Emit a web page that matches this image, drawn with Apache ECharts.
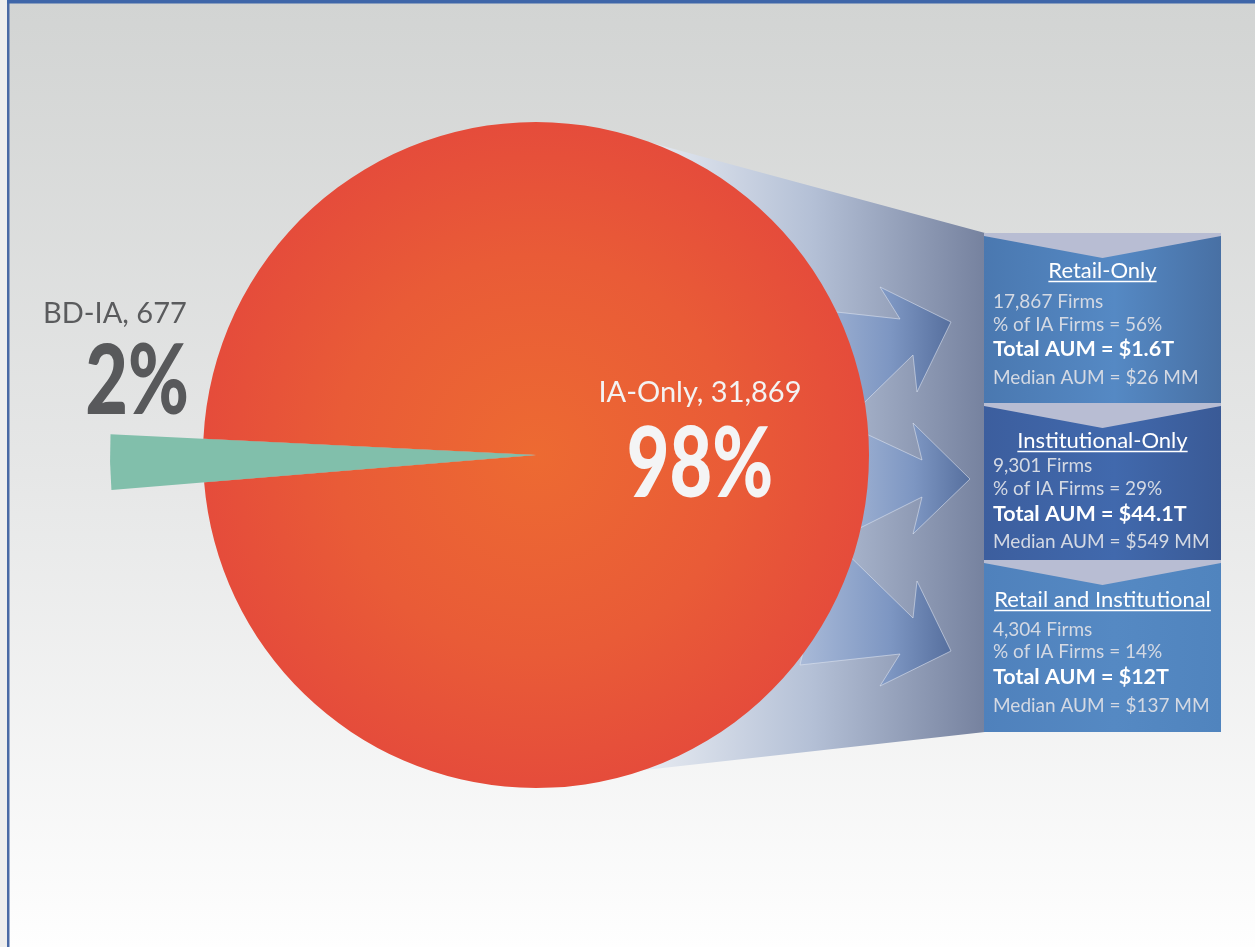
<!DOCTYPE html>
<html>
<head>
<meta charset="utf-8">
<script src="https://cdn.jsdelivr.net/npm/echarts@6/dist/echarts.min.js"></script>
<style>
  html, body { margin: 0; padding: 0; background: #ffffff; }
  #chart { width: 1255px; height: 947px; }
</style>
</head>
<body>
<div id="chart"></div>
<script>
// ---- data ----
const categories = ['IA-Only', 'BD-IA'];
const firmCounts = [31869, 677];
const segmentNames = ['Retail-Only', 'Institutional-Only', 'Retail and Institutional'];
const segmentFirms = [17867, 9301, 4304];
const segmentAum = ['$1.6T', '$44.1T', '$12T'];
const segmentMedian = ['$26 MM', '$549 MM', '$137 MM'];

// ---- layout ----
const PIE = { cx: 536, cy: 455, r: 333, rOut: 426, start: 184.7 };
const BOX = { x0: 984, x1: 1221, tops: [233, 403, 560], bottom: 732, notch: 25 };
const BOX_FILL = [
  ['#4a78b0', '#5589c4', '#4870a4'],
  ['#3c5e9e', '#4169ad', '#3a5a96'],
  ['#4f81bc', '#5589c3', '#5084be']
];
const ROW_OFFSETS = [
  [45, 75, 98, 123, 151],
  [45, 69, 92, 118, 145],
  [47, 76, 98, 124, 152]
];
const FONT = 'Lato, "Open Sans", sans-serif';
const MID = 0.33; // distance from em-box middle to baseline, in em

const fmt = n => n.toLocaleString('en-US');
const total = firmCounts.reduce((a, b) => a + b, 0);
const pct = v => Math.round(v / total * 100) + '%';
const iaTotal = firmCounts[0];

const measureCtx = document.createElement('canvas').getContext('2d');
function textWidth(str, size, weight) {
  measureCtx.font = `${weight || 400} ${size}px ${FONT}`;
  return measureCtx.measureText(str).width;
}

function label(x, baseline, str, size, opts) {
  opts = opts || {};
  return {
    type: 'text', z: 10, silent: true,
    x: x, y: baseline - MID * size,
    scaleX: opts.scaleX || 1,
    style: {
      x: 0, y: 0, text: str,
      fontSize: size, fontFamily: FONT, fontWeight: opts.weight || 400,
      fill: opts.color || '#ffffff',
      textAlign: opts.align || 'left', textVerticalAlign: 'middle'
    }
  };
}

const graphics = [];

// page background and frame
graphics.push({
  type: 'rect', z: 0, silent: true, shape: { x: 0, y: 0, width: 1255, height: 947 },
  style: { fill: new echarts.graphic.LinearGradient(0, 0, 0, 1, [
    { offset: 0, color: '#d2d4d3' }, { offset: 0.5, color: '#e6e7e7' }, { offset: 1, color: '#fefefe' }
  ]) }
});
graphics.push({ type: 'rect', z: 0, silent: true, shape: { x: 0, y: 0, width: 7, height: 947 }, style: { fill: '#eeeeee' } });
graphics.push({ type: 'rect', z: 0, silent: true, shape: { x: 7, y: 0, width: 2.5, height: 947 }, style: { fill: '#4a6aa5' } });
graphics.push({ type: 'rect', z: 0, silent: true, shape: { x: 7, y: 0, width: 1248, height: 3.5 }, style: { fill: '#3f66a9' } });

// funnel band from the pie to the segment boxes
graphics.push({
  type: 'polygon', z: 1, silent: true,
  shape: { points: [[600, 129], [BOX.x0 + 1, 233], [BOX.x0 + 1, 732], [600, 775]] },
  style: { fill: new echarts.graphic.LinearGradient(640, 0, BOX.x0, 0, [
    { offset: 0, color: '#e8ecf2' }, { offset: 0.5, color: '#b4c0d6' }, { offset: 1, color: '#76829f' }
  ], true) }
});

// three block arrows (bottom one mirrors the top one)
const axisY = 486.5;
const arrowTop = [[800, 308], [900, 319], [880, 287], [951, 322], [917, 392], [913, 355], [830, 436]];
const arrowMid = [[830, 417], [922, 460], [913, 423], [970, 479], [913, 534], [922, 497], [830, 543]];
const arrowBot = arrowTop.map(p => [p[0], 2 * axisY - p[1]]);
[arrowTop, arrowMid, arrowBot].forEach(pts => {
  graphics.push({
    type: 'polygon', z: 1, silent: true, shape: { points: pts },
    style: {
      fill: new echarts.graphic.LinearGradient(0, 0, 1, 0, [
        { offset: 0, color: '#a9bad8' }, { offset: 0.6, color: '#7d96c2' }, { offset: 1, color: '#566f9e' }
      ]),
      stroke: 'rgba(226,232,242,0.55)', lineWidth: 1
    }
  });
});

// segment boxes
segmentNames.forEach((name, i) => {
  const top = BOX.tops[i];
  const bottom = i < 2 ? BOX.tops[i + 1] : BOX.bottom;
  const midX = (BOX.x0 + BOX.x1) / 2;
  const c = BOX_FILL[i];
  graphics.push({
    type: 'rect', z: 1, silent: true,
    shape: { x: BOX.x0, y: top, width: BOX.x1 - BOX.x0, height: bottom - top },
    style: { fill: new echarts.graphic.LinearGradient(0, 0, 1, 0, [
      { offset: 0, color: c[0] }, { offset: 0.55, color: c[1] }, { offset: 1, color: c[2] }
    ]) }
  });
  graphics.push({
    type: 'polygon', z: 2, silent: true,
    shape: { points: [[BOX.x0, top], [BOX.x1, top], [BOX.x1, top + 3], [midX, top + BOX.notch], [BOX.x0, top + 3]] },
    style: { fill: '#b8bdd3' }
  });

  const rows = ROW_OFFSETS[i];
  const titleSize = 22;
  graphics.push(label(midX, top + rows[0], name, titleSize, { align: 'center' }));
  const tw = textWidth(name, titleSize, 400);
  graphics.push({
    type: 'line', z: 10, silent: true,
    shape: { x1: midX - tw / 2, y1: top + rows[0] + 3.5, x2: midX + tw / 2, y2: top + rows[0] + 3.5 },
    style: { stroke: '#ffffff', lineWidth: 1.5 }
  });
  const share = Math.round(segmentFirms[i] / iaTotal * 100);
  const tx = BOX.x0 + 9;
  graphics.push(label(tx, top + rows[1], fmt(segmentFirms[i]) + ' Firms', 19, { color: '#d4d9e3' }));
  graphics.push(label(tx, top + rows[2], '% of IA Firms = ' + share + '%', 19, { color: '#d4d9e3' }));
  graphics.push(label(tx, top + rows[3], 'Total AUM = ' + segmentAum[i], 21.5, { weight: 700 }));
  graphics.push(label(tx, top + rows[4], 'Median AUM = ' + segmentMedian[i], 19, { color: '#d4d9e3' }));
});

// pie labels
graphics.push(label(700, 402, categories[0] + ', ' + fmt(firmCounts[0]), 29, { align: 'center', color: '#f3f3f3' }));
graphics.push(label(700, 498, pct(firmCounts[0]), 97, { align: 'center', color: '#f4f4f5', weight: 900, scaleX: 0.76 }));
graphics.push(label(43, 323, categories[1] + ', ' + fmt(firmCounts[1]), 29, { color: '#5a5b5d' }));
graphics.push(label(137, 415, pct(firmCounts[1]), 97, { align: 'center', color: '#58595b', weight: 900, scaleX: 0.76 }));

const red = new echarts.graphic.RadialGradient(0.5, 0.5, 0.5, [
  { offset: 0, color: '#ed6a32' }, { offset: 0.6, color: '#e95b37' }, { offset: 1, color: '#e54c3b' }
]);
const green = '#81bfab';

const pieData = (ia, bd) => [
  { name: categories[1], value: firmCounts[1], itemStyle: bd },
  { name: categories[0], value: firmCounts[0], itemStyle: ia }
];

const option = {
  animation: false,
  graphic: { elements: graphics },
  series: [
    {
      type: 'pie', z: 2, silent: true,
      center: [PIE.cx, PIE.cy], radius: [0, PIE.r],
      startAngle: PIE.start, clockwise: true,
      label: { show: false }, labelLine: { show: false },
      itemStyle: { borderWidth: 0 },
      data: pieData({ color: red, borderWidth: 0 }, { color: red, borderWidth: 0 })
    },
    {
      type: 'pie', z: 3, silent: true,
      center: [PIE.cx, PIE.cy], radius: [0, PIE.rOut],
      startAngle: PIE.start, clockwise: true,
      label: { show: false }, labelLine: { show: false },
      itemStyle: { borderWidth: 0 },
      data: pieData({ color: 'rgba(0,0,0,0)', borderWidth: 0 }, { color: green, borderWidth: 0 })
    }
  ]
};

const chart = echarts.init(document.getElementById('chart'), null, { renderer: 'canvas' });
chart.setOption(option);
</script>
</body>
</html>
